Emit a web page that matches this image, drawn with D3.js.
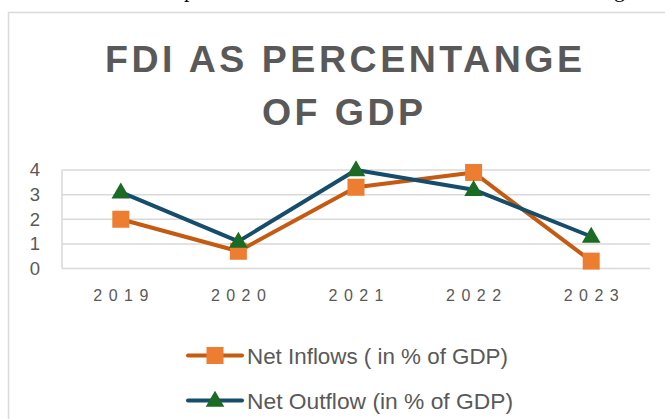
<!DOCTYPE html>
<html>
<head>
<meta charset="utf-8">
<script src="https://cdn.jsdelivr.net/npm/d3@7"></script>
<style>
  body { margin: 0; background: #fff; }
  svg { display: block; font-family: "Liberation Sans", Arial, sans-serif; }
</style>
</head>
<body>
<svg id="chart" width="665" height="419"></svg>
<script>
var years = ["2019", "2020", "2021", "2022", "2023"];
var inflows = [2.0, 0.7, 3.3, 3.9, 0.3];   // Net Inflows ( in % of GDP)
var outflows = [3.1, 1.1, 4.0, 3.2, 1.3];  // Net Outflow (in % of GDP)
var yTicks = [0, 1, 2, 3, 4];
var titleLines = ["FDI AS PERCENTANGE", "OF GDP"];
var seriesNames = ["Net Inflows ( in % of GDP)", "Net Outflow (in % of GDP)"];

var grey = "#595959";
var gridCol = "#d9d9d9";

var svg = d3.select("#chart");

// bits of the page text above the chart (only descenders show in the screenshot)
svg.append("text").attr("x", 184).attr("y", -3)
  .style("font-family", "'Liberation Serif', serif").style("font-size", "22px").text("p");
svg.append("text").attr("x", 614).attr("y", -3)
  .style("font-family", "'Liberation Serif', serif").style("font-size", "22px").text("g");

// chart frame (right/bottom run off the picture)
svg.append("path")
  .attr("d", "M8.5,430 V12.5 H680")
  .attr("fill", "none").attr("stroke", gridCol).attr("stroke-width", 1.5);

// title
var titleSpans = [{ x1: 105, x2: 582, y: 71.5 }, { x1: 262, x2: 423, y: 125 }];
svg.selectAll("text.title").data(titleLines).join("text")
  .attr("class", "title")
  .attr("x", (d, i) => titleSpans[i].x1)
  .attr("y", (d, i) => titleSpans[i].y)
  .attr("textLength", (d, i) => titleSpans[i].x2 - titleSpans[i].x1)
  .attr("lengthAdjust", "spacing")
  .style("font-size", "37.5px").style("font-weight", "bold").style("fill", grey)
  .text(d => d);

// scales
var x = d3.scaleBand().domain(years).range([62, 650]);
var y = d3.scaleLinear().domain([0, 4]).range([268.5, 170]);

// gridlines
svg.append("g").selectAll("line").data(yTicks).join("line")
  .attr("x1", 62).attr("x2", 650)
  .attr("y1", d => y(d)).attr("y2", d => y(d))
  .attr("stroke", gridCol).attr("stroke-width", 1.5);
svg.append("line")
  .attr("x1", 62).attr("x2", 62).attr("y1", y(4)).attr("y2", y(0))
  .attr("stroke", gridCol).attr("stroke-width", 1.5);

// y axis labels
var yAxis = svg.append("g").attr("transform", "translate(40,0)")
  .call(d3.axisLeft(y).tickValues(yTicks).tickSize(0).tickPadding(0).tickFormat(d3.format("d")));
yAxis.select(".domain").remove();
yAxis.selectAll("text").style("font-size", "18.5px").style("fill", grey)
  .style("font-family", "'Liberation Sans', Arial, sans-serif");

// x axis labels
var xAxis = svg.append("g").attr("transform", "translate(0,289.5)")
  .call(d3.axisBottom(x).tickSize(0).tickPadding(0));
xAxis.select(".domain").remove();
xAxis.selectAll("text")
  .attr("x", -27.5).attr("dy", "0.71em")
  .attr("textLength", 55).attr("lengthAdjust", "spacing")
  .style("text-anchor", "start")
  .style("font-size", "16px").style("fill", grey)
  .style("font-family", "'Liberation Sans', Arial, sans-serif");

var cx = d => x(d) + x.bandwidth() / 2;
var line = d3.line().x((d, i) => cx(years[i])).y(d => y(d));

var inCol = "#c55a11", inFill = "#ed7d31";
var outCol = "#154d6b", outFill = "#1b6b24";

// lines
svg.append("path").datum(inflows).attr("d", line)
  .attr("fill", "none").attr("stroke", inCol).attr("stroke-width", 4).attr("stroke-linejoin", "round");
svg.append("path").datum(outflows).attr("d", line)
  .attr("fill", "none").attr("stroke", outCol).attr("stroke-width", 4).attr("stroke-linejoin", "round");

var sq = d3.symbol().type(d3.symbolSquare).size(17 * 17);
var tri = d3.symbol().type(d3.symbolTriangle).size(150);

svg.append("g").selectAll("path").data(inflows).join("path")
  .attr("d", sq)
  .attr("transform", (d, i) => "translate(" + cx(years[i]) + "," + y(d) + ")")
  .attr("fill", inFill);
svg.append("g").selectAll("path").data(outflows).join("path")
  .attr("d", tri)
  .attr("transform", (d, i) => "translate(" + cx(years[i]) + "," + (y(d) + 1) + ")")
  .attr("fill", outFill);

// legend
var legend = [
  { name: seriesNames[0], y: 355.5, col: inCol, fill: inFill, sym: sq, w: 261 },
  { name: seriesNames[1], y: 400.5, col: outCol, fill: outFill, sym: tri, w: 266 }
];
var lg = svg.append("g").selectAll("g").data(legend).join("g");
lg.append("line")
  .attr("x1", 188).attr("x2", 242).attr("y1", d => d.y).attr("y2", d => d.y)
  .attr("stroke", d => d.col).attr("stroke-width", 4).attr("stroke-linecap", "round");
lg.append("path")
  .attr("d", d => d.sym())
  .attr("transform", d => "translate(215," + (d.y + (d.sym === tri ? 1 : 0)) + ")")
  .attr("fill", d => d.fill);
lg.append("text")
  .attr("x", 247).attr("y", d => d.y + 8)
  .attr("textLength", d => d.w).attr("lengthAdjust", "spacingAndGlyphs")
  .style("font-size", "22px").style("fill", grey)
  .text(d => d.name);
</script>
</body>
</html>
